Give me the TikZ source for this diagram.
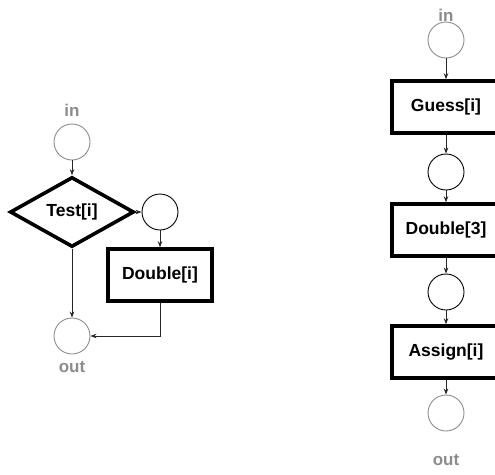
\documentclass[tikz,border=0pt]{standalone}
\usepackage{fontspec}
\setmainfont{Liberation Sans}
\usetikzlibrary{arrows.meta,shapes.geometric}
\definecolor{portgray}{HTML}{8C8C8C}
\tikzset{
  place/.style={circle,draw=black,line width=0.9pt,minimum size=36pt,inner sep=0pt},
  port/.style={place,draw=portgray},
  portlabel/.style={text=portgray,font=\bfseries\fontsize{17}{20}\selectfont,inner sep=0pt},
  taskbox/.style={rectangle,draw=black,line width=3.5pt,minimum width=104pt,minimum height=52pt,
    inner sep=0pt,font=\bfseries\fontsize{17.5}{21}\selectfont},
  testbox/.style={diamond,draw=black,line width=3.6pt,aspect=1.77,minimum width=124pt,
    minimum height=70pt,inner sep=0pt,font=\bfseries\fontsize{17.5}{21}\selectfont},
  flow/.style={draw=black!85,line width=0.8pt,-{Stealth[length=6pt,width=4.5pt]}}
}
\begin{document}
\begin{tikzpicture}[x=1pt,y=-1pt]
\useasboundingbox (0,0) rectangle (495,474);
\clip (0,0) rectangle (495,474);
% conditional doubling
\node[portlabel] (inA) at (72,110) {in};
\node[port] (srcA) at (72,142) {};
\node[testbox] (test) at (72,212) {Test[i]};
\node[place] (mid) at (160,212) {};
\node[taskbox] (dbl) at (160,275) {Double[i]};
\node[port] (sinkA) at (72,336) {};
\node[portlabel] (outA) at (72,367) {out};
\draw[flow] (srcA) -- (test.north);
\draw[flow] (test.east) -- (mid);
\draw[flow] (mid) -- (dbl.north);
\draw[flow] (test.south) -- (sinkA);
\draw[flow] (dbl.south) |- (sinkA.east);
% sequential pipeline
\node[portlabel] (inB) at (446,15) {in};
\node[port] (srcB) at (446,40) {};
\node[taskbox,minimum width=108pt] (guess) at (446,107) {Guess[i]};
\node[place] (p1) at (446,172) {};
\node[taskbox,minimum width=108pt] (dbl3) at (446,230) {Double[3]};
\node[place] (p2) at (446,292) {};
\node[taskbox,minimum width=108pt] (assign) at (446,352) {Assign[i]};
\node[port] (sinkB) at (446,413) {};
\node[portlabel] (outB) at (446,460) {out};
\draw[flow] (srcB) -- (guess);
\draw[flow] (guess) -- (p1);
\draw[flow] (p1) -- (dbl3);
\draw[flow] (dbl3) -- (p2);
\draw[flow] (p2) -- (assign);
\draw[flow] (assign) -- (sinkB);
\end{tikzpicture}
\end{document}
